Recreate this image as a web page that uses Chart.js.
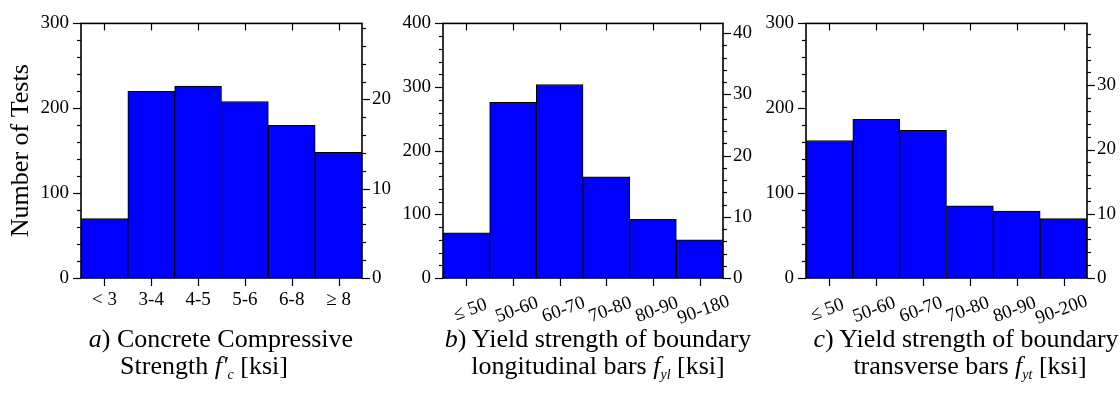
<!DOCTYPE html>
<html lang="en">
<head>
<meta charset="UTF-8">
<title>Number of tests by material strength</title>
<script src="https://cdn.jsdelivr.net/npm/chart.js"></script>
<style>
  body { margin: 0; background: #fff; }
  #wrap { position: relative; width: 1120px; height: 395px; overflow: hidden; font-family: "Liberation Serif", serif; color: #000; }
  .panel { position: absolute; top: 0; }
  .cap { position: absolute; width: 420px; text-align: center; font-size: 26px; line-height: 1; white-space: nowrap; }
  .cap sub { font-size: 14px; vertical-align: -5px; }
</style>
</head>
<body>
<div id="wrap">
  <canvas id="chartA" class="panel" style="left:0" width="400" height="330"></canvas>
  <canvas id="chartB" class="panel" style="left:400px" width="360" height="330"></canvas>
  <canvas id="chartC" class="panel" style="left:760px" width="360" height="330"></canvas>

  <div class="cap" style="left:11px; top:326px"><i>a</i>) Concrete Compressive</div>
  <div class="cap" style="left:-6px; top:353px">Strength <i>f'<sub>c</sub></i> [ksi]</div>
  <div class="cap" style="left:388px; top:326px"><i>b</i>) Yield strength of boundary</div>
  <div class="cap" style="left:388px; top:353px">longitudinal bars <i>f<sub>yl</sub></i> [ksi]</div>
  <div class="cap" style="left:756px; top:326px"><i>c</i>) Yield strength of boundary</div>
  <div class="cap" style="left:760px; top:353px">transverse bars <i>f<sub>yt</sub></i> [ksi]</div>
</div>
<script>
// concrete compressive strength f'c [ksi]
const fcLabels = ['< 3', '3-4', '4-5', '5-6', '6-8', '≥ 8'];
const fcCounts = [70, 220, 226, 208, 180, 148];
// longitudinal bar yield strength fyl [ksi]
const fylLabels = ['≤ 50', '50-60', '60-70', '70-80', '80-90', '90-180'];
const fylCounts = [71, 276, 304, 159, 92, 60];
// transverse bar yield strength fyt [ksi]
const fytLabels = ['≤ 50', '50-60', '60-70', '70-80', '80-90', '90-200'];
const fytCounts = [162, 187, 174, 85, 79, 70];
// left axis tops (number of tests)
const countMax = [300, 400, 300];

Chart.defaults.font.family = '"Liberation Serif", serif';
Chart.defaults.color = '#000';

// frame, tick marks and slanted category labels
const framePlugin = {
  id: 'frame',
  afterDraw(chart, args, opts) {
    const ctx = chart.ctx;
    const a = chart.chartArea;
    const x = chart.scales.x, y = chart.scales.y, y2 = chart.scales.y2;
    ctx.save();
    ctx.strokeStyle = '#000';
    ctx.lineWidth = 1.2;
    function seg(x1, y1, x2, y2_) {
      ctx.beginPath(); ctx.moveTo(x1, y1); ctx.lineTo(x2, y2_); ctx.stroke();
    }
    for (let v = 0; v <= y.max + 0.001; v += 20) {
      const py = Math.round(y.getPixelForValue(v)) + 0.5;
      const len = v % 100 === 0 ? 8 : 4;
      seg(a.left - len, py, a.left, py);
    }
    for (let v = 0; v <= y2.max + 0.001; v += 2) {
      const py = Math.round(y2.getPixelForValue(v)) + 0.5;
      const len = v % 10 === 0 ? 8 : 4;
      seg(a.right, py, a.right + len, py);
    }
    x.ticks.forEach((t, i) => {
      const px = Math.round(x.getPixelForTick(i)) + 0.5;
      seg(px, a.bottom, px, a.bottom + 8);
      seg(px, a.top, px, a.top + 7);
    });
    ctx.lineWidth = 1.6;
    ctx.strokeRect(a.left, a.top, a.right - a.left, a.bottom - a.top);

    if (opts.slant) {
      ctx.fillStyle = '#000';
      ctx.font = '19px "Liberation Serif"';
      ctx.textAlign = 'center';
      ctx.textBaseline = 'middle';
      x.ticks.forEach((t, i) => {
        ctx.save();
        ctx.translate(x.getPixelForTick(i) + opts.dx, a.bottom + 32);
        ctx.rotate(-20 * Math.PI / 180);
        ctx.fillText(chart.data.labels[i], 0, 0);
        ctx.restore();
      });
    }
    ctx.restore();
  }
};

function makeChart(id, labels, counts, top, lay) {
  const total = counts.reduce((s, v) => s + v, 0);
  return new Chart(document.getElementById(id), {
    type: 'bar',
    data: {
      labels: labels,
      datasets: [{
        data: counts,
        backgroundColor: '#0000ff',
        borderColor: '#000',
        borderWidth: 1,
        barPercentage: 1,
        categoryPercentage: 1,
        yAxisID: 'y'
      }]
    },
    options: {
      responsive: false,
      animation: false,
      devicePixelRatio: 1,
      layout: { padding: { top: 13 } },
      plugins: {
        legend: { display: false },
        tooltip: { enabled: false },
        frame: { slant: lay.slant, dx: lay.dx }
      },
      scales: {
        x: {
          type: 'category',
          offset: true,
          grid: { display: false, drawTicks: false },
          border: { display: false },
          ticks: { display: !lay.slant, font: { size: 19 }, padding: 11, maxRotation: 0, autoSkip: false },
          afterFit: s => { s.height = 52; }
        },
        y: {
          position: 'left',
          min: 0,
          max: top,
          grid: { display: false, drawTicks: false },
          border: { display: false },
          ticks: { stepSize: 100, font: { size: 19 }, padding: 12 },
          title: {
            display: !!lay.title,
            text: lay.title || '',
            font: { size: 26 },
            padding: { top: 6, bottom: 0 }
          },
          afterFit: s => { s.width = lay.left; }
        },
        y2: {
          position: 'right',
          min: 0,
          max: top / total * 100,
          grid: { display: false, drawTicks: false },
          border: { display: false },
          ticks: { stepSize: 10, includeBounds: false, font: { size: 19 }, padding: 10 },
          afterFit: s => { s.width = lay.right; }
        }
      }
    },
    plugins: [framePlugin]
  });
}

makeChart('chartA', fcLabels, fcCounts, countMax[0], { left: 81, right: 38, slant: false, dx: 0, title: 'Number of Tests' });
makeChart('chartB', fylLabels, fylCounts, countMax[1], { left: 43, right: 37, slant: true, dx: 4 });
makeChart('chartC', fytLabels, fytCounts, countMax[2], { left: 46, right: 33, slant: true, dx: -2 });
</script>
</body>
</html>
